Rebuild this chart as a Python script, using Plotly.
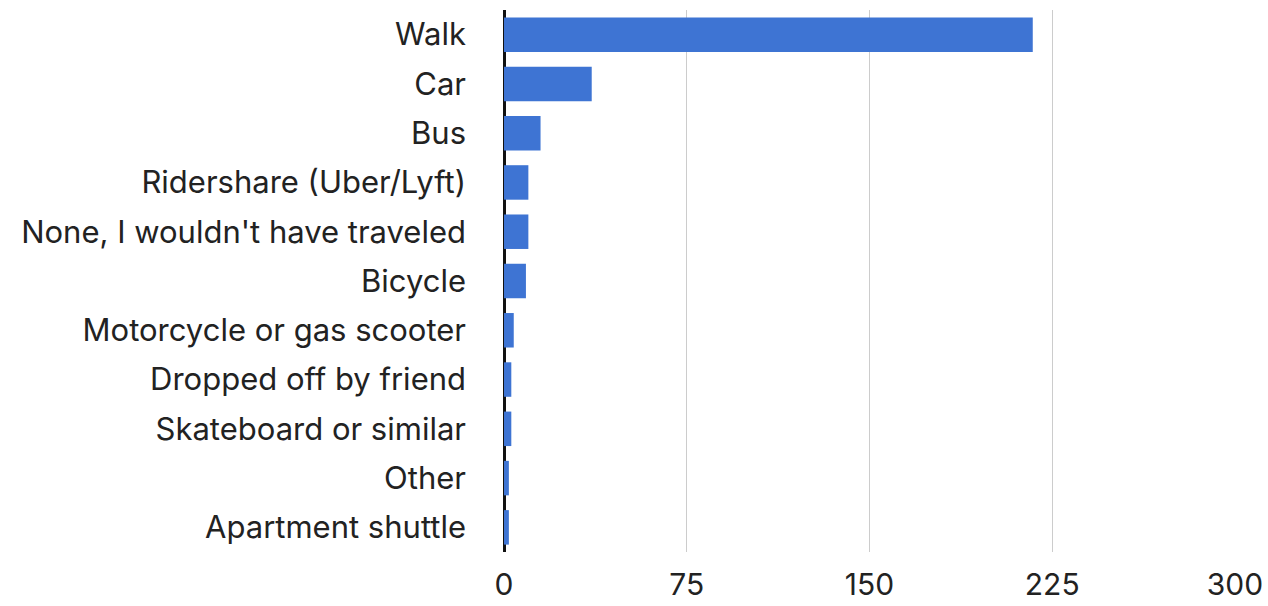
import plotly.graph_objects as go

categories = [
    "Walk", "Car", "Bus", "Ridershare (Uber/Lyft)", "None, I wouldn't have traveled",
    "Bicycle", "Motorcycle or gas scooter", "Dropped off by friend",
    "Skateboard or similar", "Other", "Apartment shuttle",
]
values = [217, 36, 15, 10, 10, 9, 4, 3, 3, 2, 2]
x_ticks = [0, 75, 150, 225, 300]

fig = go.Figure(go.Bar(
    x=values, y=categories, orientation="h",
    marker=dict(color="#3e74d3", line=dict(width=0)),
))

FONT = "Inter"
FS = 31
fig.update_layout(
    width=1268, height=606,
    margin=dict(l=504, r=33, t=10, b=54),
    paper_bgcolor="white", plot_bgcolor="white",
    font=dict(family=FONT, size=FS, color="#222222"),
    bargap=0.3,
    showlegend=False,
)
fig.update_xaxes(
    range=[0, 300], tickvals=x_ticks, ticktext=[str(v) for v in x_ticks],
    showgrid=True, gridcolor="#cccccc", gridwidth=1,
    zeroline=True, zerolinecolor="#111111", zerolinewidth=3,
    showline=False, ticks="", ticklabelstandoff=12, automargin=False,
    tickfont=dict(family=FONT, size=30, color="#222222"),
)
fig.update_yaxes(
    autorange="reversed", showgrid=False, showline=False, ticks="",
    ticklabelstandoff=37, automargin=False,
    tickfont=dict(family=FONT, size=FS, color="#222222"),
)

fig.write_html(
    "out.html",
    config={"displayModeBar": False},
    post_script="document.body.style.margin='0';document.body.style.overflow='hidden';",
)
